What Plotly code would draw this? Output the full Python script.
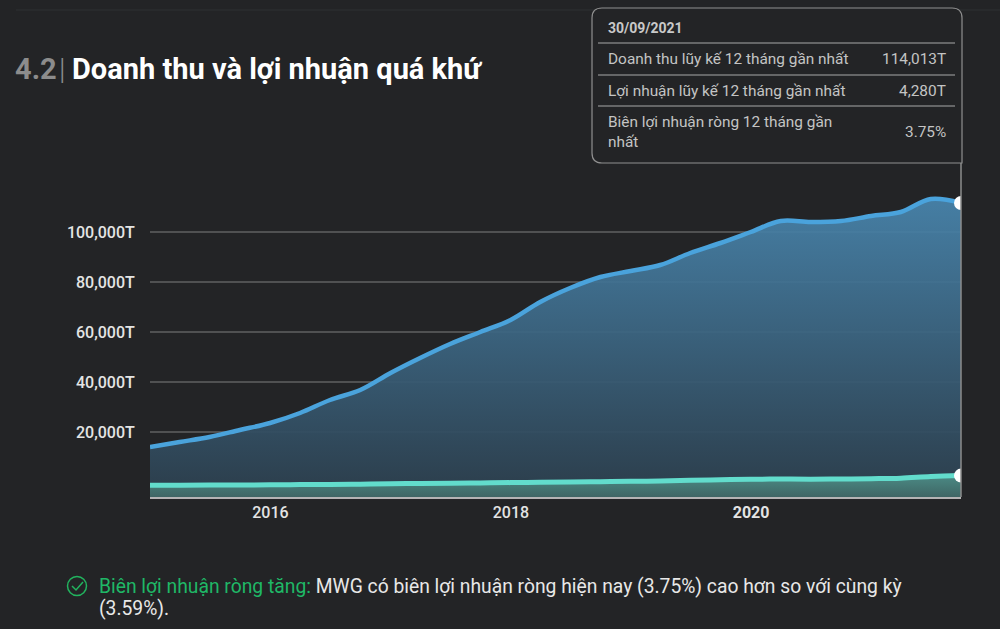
import plotly.graph_objects as go

quarters = ["2014-12-31","2015-03-31","2015-06-30","2015-09-30","2015-12-31","2016-03-31","2016-06-30",
            "2016-09-30","2016-12-31","2017-03-31","2017-06-30","2017-09-30","2017-12-31","2018-03-31",
            "2018-06-30","2018-09-30","2018-12-31","2019-03-31","2019-06-30","2019-09-30","2019-12-31",
            "2020-03-31","2020-06-30","2020-09-30","2020-12-31","2021-03-31","2021-06-30","2021-09-30"]
revenue = [14000,16000,18000,20800,23600,27600,32800,36800,43600,49600,55200,60000,64800,72000,
           77600,82000,84400,86800,91600,95600,100000,104400,104000,104400,106400,108000,113200,111600]
profit = [2340,2360,2380,2400,2440,2480,2520,2560,2640,2700,2740,2800,2880,2940,
          3000,3060,3140,3200,3340,3440,3540,3600,3560,3600,3660,3760,4120,4280]
y_ticks = [20000,40000,60000,80000,100000]
y_labels = ["20,000T","40,000T","60,000T","80,000T","100,000T"]
x_ticks = ["2016-01-01","2018-01-01","2020-01-01"]
x_labels = ["2016","2018","<b>2020</b>"]
rev_floor = -6000
tooltip_rows = [("Doanh thu lũy kế 12 tháng gần nhất","114,013T"),
                ("Lợi nhuận lũy kế 12 tháng gần nhất","4,280T"),
                ("Biên lợi nhuận ròng 12 tháng gần<br>nhất","3.75%")]

W, H = 1000, 629
L, R, T, B = 150, 961, 163, 497
BG = "#232426"
FONT = "Roboto"
def px(x): return (x - L) / (R - L)
def py(y): return (B - y) / (B - T)

fig = go.Figure()
fig.add_trace(go.Scatter(x=quarters, y=[rev_floor]*len(quarters), mode="lines", line=dict(width=0), showlegend=False))
fig.add_trace(go.Scatter(x=quarters, y=revenue, mode="lines", fill="tonexty", line=dict(color="#4aa3dc", width=4.5, shape="spline", smoothing=1.0),
    fillgradient=dict(type="vertical", start=120000, stop=-6000,
        colorscale=[[0,"rgba(74,138,180,0.92)"],[1,"rgba(44,62,76,0.95)"]]), showlegend=False))
fig.add_trace(go.Scatter(x=quarters, y=profit, yaxis="y2", mode="lines", fill="tozeroy", line=dict(color="#62dccc", width=5, shape="spline", smoothing=1.0),
    fillgradient=dict(type="vertical", start=4300, stop=0,
        colorscale=[[0,"rgba(78,146,138,0.9)"],[1,"rgba(64,104,102,0.95)"]]), showlegend=False))
fig.add_trace(go.Scatter(x=quarters[-1:], y=revenue[-1:], mode="markers", marker=dict(color="white", size=14), showlegend=False))
fig.add_trace(go.Scatter(x=quarters[-1:], y=profit[-1:], yaxis="y2", mode="markers", marker=dict(color="white", size=14), showlegend=False))

shapes = [
    dict(type="line", xref="paper", yref="paper", x0=px(16), x1=px(1000), y0=py(10), y1=py(10), line=dict(color="#2f3032", width=1)),
    dict(type="line", xref="paper", yref="paper", x0=1, x1=1, y0=0, y1=py(163), line=dict(color="#8c8c8c", width=1.5)),
    dict(type="path", xref="paper", yref="paper", fillcolor=BG, line=dict(color="#8f8f8f", width=1.2),
         path=f"M {px(602)} {py(8)} L {px(952)} {py(8)} Q {px(962)} {py(8)} {px(962)} {py(18)} L {px(962)} {py(163)} "
              f"L {px(602)} {py(163)} Q {px(592)} {py(163)} {px(592)} {py(153)} L {px(592)} {py(18)} Q {px(592)} {py(8)} {px(602)} {py(8)} Z"),
]
for yy in (43, 75, 106):
    shapes.append(dict(type="line", xref="paper", yref="paper", x0=px(598), x1=px(955), y0=py(yy), y1=py(yy), line=dict(color="#a8a8a8", width=1)))
# check-circle icon
shapes.append(dict(type="circle", xref="paper", yref="paper", x0=px(67.5), x1=px(86.5), y0=py(595.5), y1=py(576.5), line=dict(color="#22b35e", width=1.5)))
shapes.append(dict(type="path", xref="paper", yref="paper", path=f"M {px(72)} {py(586)} L {px(76)} {py(590)} L {px(83)} {py(582)}", line=dict(color="#22b35e", width=1.5)))

def note(x, y, text, size, color, anchor="left", weight=400, yanchor="middle"):
    return dict(xref="paper", yref="paper", x=px(x), y=py(y), text=text, showarrow=False, xanchor=anchor, yanchor=yanchor,
                align=anchor, font=dict(family=FONT, size=size, color=color, weight=weight))

anns = [
    note(13, 69, "4.2", 29, "#8c8c8c", weight=700),
    note(57, 69, "|", 29, "#8c8c8c", weight=300),
    note(70, 69, "Doanh thu và lợi nhuận quá khứ", 29, "#ffffff", weight=700),
    note(606, 28, "30/09/2021", 14, "#c9c9c9", weight=700),
    note(606, 59.5, tooltip_rows[0][0], 15.4, "#c4c4c4"),
    note(948, 59.5, tooltip_rows[0][1], 15.4, "#c4c4c4", "right"),
    note(606, 91, tooltip_rows[1][0], 15.4, "#c4c4c4"),
    note(948, 91, tooltip_rows[1][1], 15.4, "#c4c4c4", "right"),
    note(606, 132, tooltip_rows[2][0], 15.4, "#c4c4c4"),
    note(948, 132, tooltip_rows[2][1], 15.4, "#c4c4c4", "right"),
    note(97, 586, "<span style='color:#1fb866'>Biên lợi nhuận ròng tăng:</span> MWG có biên lợi nhuận ròng hiện nay (3.75%) cao hơn so với cùng kỳ", 19.3, "#e8e8e8"),
    note(97, 608, "(3.59%).", 19.3, "#e8e8e8"),
]

fig.update_layout(
    width=W, height=H, margin=dict(l=L, r=W-R, t=T, b=H-B),
    paper_bgcolor=BG, plot_bgcolor=BG, hovermode=False, showlegend=False,
    shapes=shapes, annotations=anns,
    font=dict(family=FONT),
    xaxis=dict(type="date", range=[quarters[0], quarters[-1]], tickvals=x_ticks, ticktext=x_labels, showgrid=False,
               zeroline=False, showline=True, linecolor="#b4b4b4", linewidth=2, ticks="", ticklen=0,
               tickfont=dict(family=FONT, size=16, color="#e4e4e4", weight=500)),
    yaxis=dict(range=[rev_floor, 127600], tickvals=y_ticks, ticktext=y_labels, showgrid=True, gridcolor="#505152", gridwidth=1.5,
               zeroline=False, showline=False, ticks="outside", ticklen=11, tickcolor="rgba(0,0,0,0)",
               tickfont=dict(family=FONT, size=16, color="#e4e4e4", weight=500)),
    yaxis2=dict(overlaying="y", range=[0, 66800], visible=False),
)
fig.write_html("out.html", config=dict(displayModeBar=False), post_script="document.body.style.margin='0';document.body.style.background='#232426';")
